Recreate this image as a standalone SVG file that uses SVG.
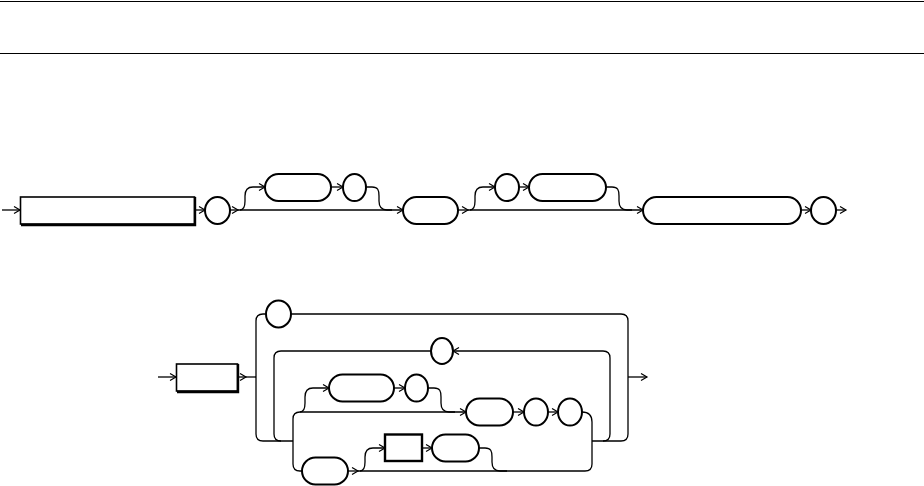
<svg xmlns="http://www.w3.org/2000/svg" width="924" height="486" viewBox="0 0 924 486">
<style>
.c{fill:none;stroke:#000;stroke-width:1.3}
.a{marker-end:url(#arr)}
.s{fill:#fff;stroke:#000;stroke-width:2}
.b{fill:#fff;stroke:#000;stroke-width:1.6}
.sh{fill:none;stroke:#000;stroke-width:2.4}
.rule{stroke:#000;stroke-width:1}
</style>
<defs>
<marker id="arr" markerUnits="userSpaceOnUse" markerWidth="10" markerHeight="10" refX="7" refY="4" orient="auto">
<path d="M1,0.5 L7,4 L1,7.5" fill="none" stroke="#000" stroke-width="1.2"/>
</marker>
</defs>
<rect width="924" height="486" fill="#fff"/>
<line class="rule" x1="0" y1="1.5" x2="924" y2="1.5"/>
<line class="rule" x1="0" y1="53.5" x2="924" y2="53.5"/>

<g id="connectors">
<path class="c a" d="M2,210 H20"/>
<path class="c a" d="M195,210 H205"/>
<path class="c a" d="M230,210 H238"/>
<path class="c a" d="M238,210 H403"/>
<path class="c a" d="M240,210 c4,0 5,-3 5,-9 v-5 c0,-6 2,-9 8,-9 H265"/>
<path class="c a" d="M331,187 H343"/>
<path class="c" d="M366,187 H372 c6,0 7,3 7,9 v5 c0,6 2,9 8,9 H392"/>
<path class="c a" d="M458,210 H468"/>
<path class="c a" d="M468,210 H643"/>
<path class="c a" d="M470,210 c4,0 5,-3 5,-9 v-5 c0,-6 2,-9 8,-9 H495"/>
<path class="c a" d="M519,187 H529"/>
<path class="c" d="M606,187 H612 c6,0 7,3 7,9 v5 c0,6 2,9 8,9 H632"/>
<path class="c a" d="M801,210 H811"/>
<path class="c a" d="M836,210 H846"/>

<path class="c a" d="M158,377 H176"/>
<path class="c a" d="M238,377 H246"/>
<path class="c" d="M246,377 H256"/>
<path class="c" d="M266,314 H263 q-7,0 -7,7 V434 q0,7 7,7 H293"/>
<path class="c" d="M291,314 H621 q7,0 7,7 V434 q0,7 -7,7 H592"/>
<path class="c a" d="M628,377 H647"/>
<path class="c" d="M431,351 H281 q-7,0 -7,7 V434 q0,7 7,7"/>
<path class="c a" d="M610,434 V358 q0,-7 -7,-7 H453"/>
<path class="c" d="M603,441 q7,0 7,-7"/>
<path class="c a" d="M293,441 V419 q0,-7 7,-7 H466"/>
<path class="c a" d="M300,412 c4,0 5,-3 5,-9 v-6 c0,-6 2,-9 8,-9 H329"/>
<path class="c a" d="M394,388 H405"/>
<path class="c" d="M428,388 H434 c6,0 7,3 7,9 v6 c0,6 2,9 8,9 H455"/>
<path class="c a" d="M513,412 H524"/>
<path class="c a" d="M548,412 H558"/>
<path class="c" d="M582,412 q10,0 10,10 V464 q0,7 -7,7 H358"/>
<path class="c" d="M293,441 V464 q0,7 7,7 H302"/>
<path class="c a" d="M348,471 H358"/>
<path class="c a" d="M360,471 c4,0 5,-3 5,-9 v-5 c0,-6 2,-9 8,-9 H385"/>
<path class="c a" d="M422,448 H432"/>
<path class="c" d="M479,448 H485 c6,0 7,3 7,9 v5 c0,6 2,9 8,9 H507"/>
</g>

<g id="n1"><rect class="b" x="20.5" y="197" width="174" height="27"/><path class="sh" d="M195,197 V225 H21"/></g>
<g id="n2"><ellipse class="s" cx="217.5" cy="210.5" rx="12.5" ry="13.5"/></g>
<g id="n3"><rect class="s" x="265" y="174" width="66" height="27" rx="13.5"/></g>
<g id="n4"><ellipse class="s" cx="354.5" cy="187.5" rx="11.5" ry="13.5"/></g>
<g id="n5"><rect class="s" x="403" y="197" width="55" height="27" rx="13.5"/></g>
<g id="n6"><ellipse class="s" cx="507" cy="187.5" rx="12" ry="13.5"/></g>
<g id="n7"><rect class="s" x="529" y="174" width="77" height="27" rx="13.5"/></g>
<g id="n8"><rect class="s" x="643" y="197" width="158" height="27" rx="13.5"/></g>
<g id="n9"><ellipse class="s" cx="823.5" cy="210.5" rx="12.5" ry="13.5"/></g>

<g id="n10"><rect class="b" x="176.5" y="364" width="61" height="27"/><path class="sh" d="M238,364 V392 H177"/></g>
<g id="n11"><ellipse class="s" cx="278.5" cy="314" rx="12.5" ry="13.5"/></g>
<g id="n12"><ellipse class="s" cx="442" cy="351" rx="11" ry="13"/></g>
<g id="n13"><rect class="s" x="329" y="374.5" width="65" height="27" rx="13.5"/></g>
<g id="n14"><ellipse class="s" cx="416.5" cy="388" rx="11.5" ry="13.5"/></g>
<g id="n15"><rect class="s" x="466" y="398.5" width="47" height="27" rx="13.5"/></g>
<g id="n16"><ellipse class="s" cx="536" cy="412" rx="12" ry="13.5"/></g>
<g id="n17"><ellipse class="s" cx="570" cy="412" rx="12" ry="13.5"/></g>
<g id="n18"><rect class="s" x="302" y="457.5" width="46" height="27" rx="13.5"/></g>
<g id="n19"><rect x="385" y="434.5" width="37" height="26.5" fill="#fff" stroke="#000" stroke-width="2.4"/></g>
<g id="n20"><rect class="s" x="432" y="434.5" width="47" height="27" rx="13.5"/></g>
</svg>
